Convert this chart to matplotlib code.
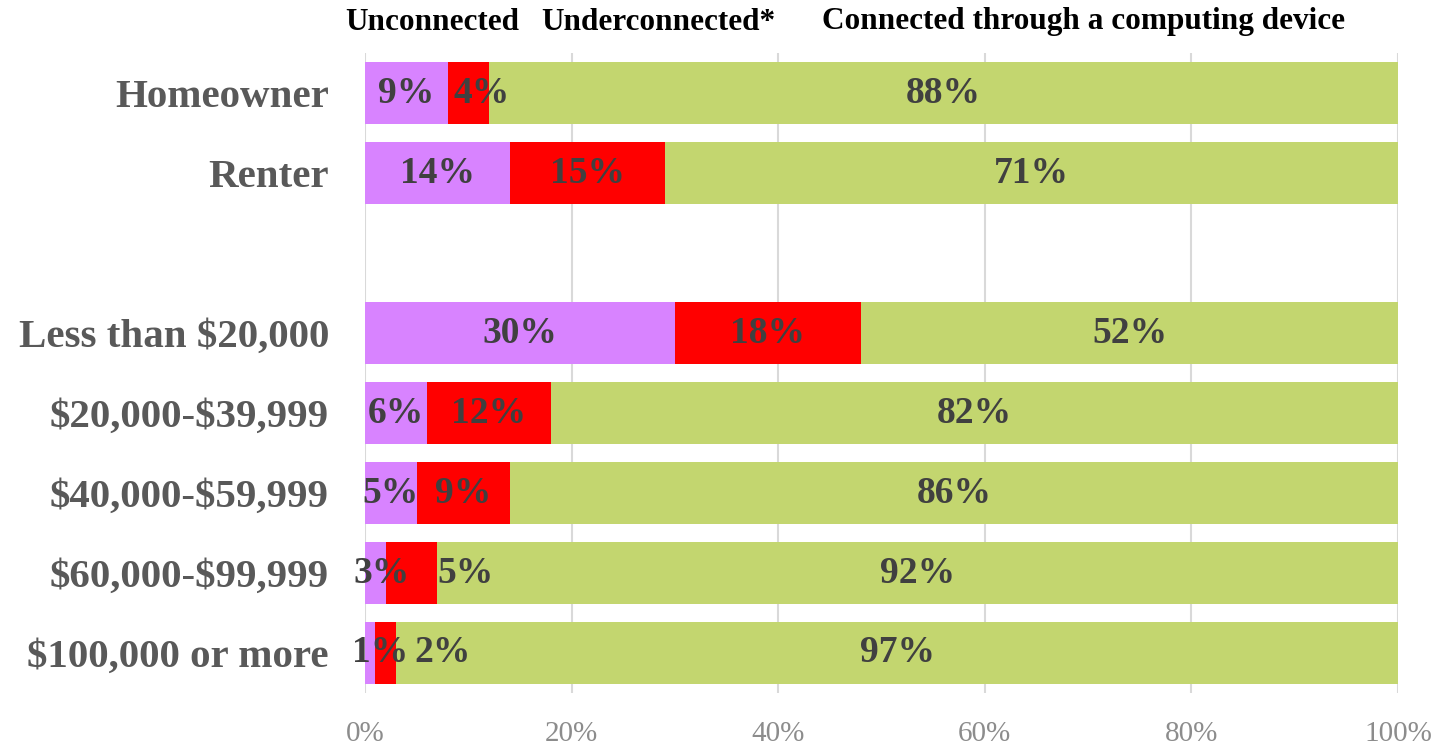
import matplotlib.pyplot as plt

plt.rcParams['font.family'] = ['Liberation Serif', 'DejaVu Serif']

categories = ['Homeowner', 'Renter', '', r'Less than \$20,000', r'\$20,000-\$39,999',
              r'\$40,000-\$59,999', r'\$60,000-\$99,999', r'\$100,000 or more']
# None marks the empty spacer row
unconnected = [8, 14, None, 30, 6, 5, 2, 1]
underconnected = [4, 15, None, 18, 12, 9, 5, 2]
connected = [88, 71, None, 52, 82, 86, 93, 97]

unconnected_lbl = ['9%', '14%', '', '30%', '6%', '5%', '3%', '1%']
underconnected_lbl = ['4%', '15%', '', '18%', '12%', '9%', '5%', '2%']
connected_lbl = ['88%', '71%', '', '52%', '82%', '86%', '92%', '97%']

# label shifts used by the original for crowded segments
unconnected_shift = [0, 0, 0, 0, 0, 0, 0.65, 0.95]
underconnected_shift = [1.3, 0, 0, 0, 0, 0, 5.2, 5.5]

series = ['Unconnected', 'Underconnected*', 'Connected through a computing device']
colors = ['#D883FF', '#FF0000', '#C3D66F']

fig = plt.figure(figsize=(14.41, 7.47), dpi=100)
ax = fig.add_axes([0.2533, 0.0723, 0.7169, 0.8567])

rows = [i for i, v in enumerate(unconnected) if v is not None]
h = 0.775
left = [0] * len(categories)
for vals, lbls, shifts, col in [
        (unconnected, unconnected_lbl, unconnected_shift, colors[0]),
        (underconnected, underconnected_lbl, underconnected_shift, colors[1]),
        (connected, connected_lbl, [0] * 8, colors[2])]:
    for i in rows:
        ax.barh(i, vals[i], left=left[i], height=h, color=col, zorder=2)
        ax.text(left[i] + vals[i] / 2 + shifts[i], i, lbls[i], ha='center', va='center',
                fontsize=27, fontweight='bold', color='#404040', zorder=3)
        left[i] += vals[i]

ax.set_xlim(0, 100)
ax.set_ylim(7.5, -0.5)
ax.set_xticks(range(0, 101, 20))
ax.set_xticklabels([f'{t}%' for t in range(0, 101, 20)], fontsize=21, color='#8C8C8C')
ax.set_yticks(range(len(categories)))
ax.set_yticklabels(categories, fontsize=29.5, fontweight='bold', color='#595959')
ax.tick_params(length=0)
ax.tick_params(axis='y', pad=26)
ax.tick_params(axis='x', pad=20)
ax.grid(axis='x', color='#D9D9D9', linewidth=1.5, zorder=0)
for s in ax.spines.values():
    s.set_visible(False)

for name, x in zip(series, [345, 541, 822]):
    fig.text(x / 1441, 1 - 22 / 747, name, ha='left', va='center',
             fontsize=22.5, fontweight='bold', color='black')

fig.savefig('out.png', dpi=100)
